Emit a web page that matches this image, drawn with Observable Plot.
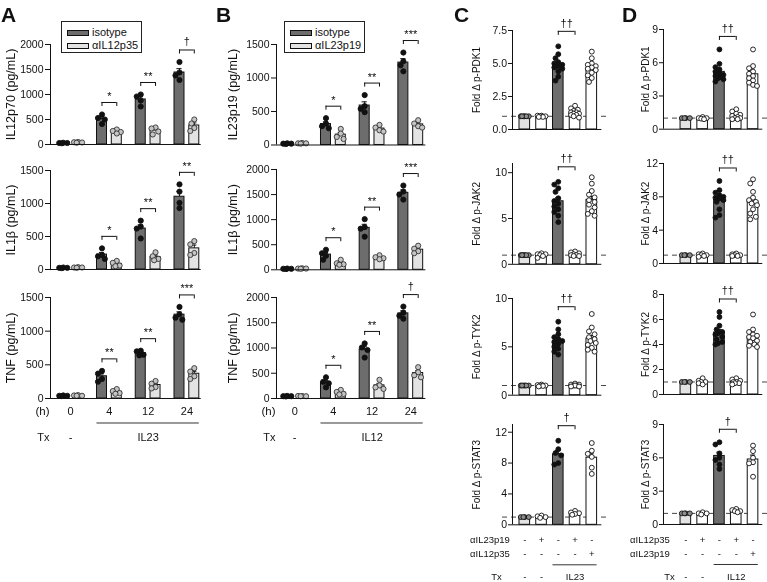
<!DOCTYPE html>
<html>
<head>
<meta charset="utf-8">
<script src="https://cdn.jsdelivr.net/npm/d3@7"></script>
<script src="https://cdn.jsdelivr.net/npm/@observablehq/plot@0.6"></script>
<style>
  body { margin: 0; background: #fff; }
  #fig { position: relative; width: 767px; height: 582px; overflow: hidden;
         font-family: "Liberation Sans", Arial, Helvetica, sans-serif; color: #111; background: #fff; }
  #fig svg { will-change: transform; }
  .letter { position: absolute; font-weight: bold; font-size: 21px; line-height: 21px; }
  .legend { position: absolute; border: 1px solid #222; box-sizing: border-box; background: #fff; }
  .sw { position: absolute; border: 1px solid #111; box-sizing: border-box; }
  .lt { position: absolute; font-size: 11px; line-height: 13px; white-space: nowrap; }
</style>
</head>
<body>
<div id="fig"></div>
<script>
// ================= DATA =================
const hours = ["0", "4", "12", "24"];
const seriesA = ["isotype", "αIL12p35"];
const seriesB = ["isotype", "αIL23p19"];
const txA = ["-", "IL23", "IL23", "IL23"];
const txB = ["-", "IL12", "IL12", "IL12"];

// Panel A (pg/mL), one inner array of replicate values per time point
const A_IL12p70_iso  = [[25,30,35,30],[600,530,500,410],[1000,960,880,760],[1650,1440,1380,1290]];
const A_IL12p70_anti = [[35,45,50,40],[300,270,250,220],[340,320,260,200],[500,420,330,270]];
const A_IL12p70_sig  = ["", "*", "**", "†"];
const A_IL1b_iso  = [[20,25,30,25],[320,220,200,160],[740,650,620,470],[1290,1180,1010,930]];
const A_IL1b_anti = [[25,30,35,30],[130,100,60,50],[260,200,160,140],[430,380,250,220]];
const A_IL1b_sig  = ["", "*", "**", "**"];
const A_TNF_iso  = [[35,40,45,40],[410,370,290,250],[710,700,650,640],[1360,1250,1200,1170]];
const A_TNF_anti = [[40,50,45,40],[140,110,80,70],[260,220,170,150],[450,400,330,290]];
const A_TNF_sig  = ["", "**", "**", "***"];

// Panel B (pg/mL)
const B_IL23p19_iso  = [[15,20,25,20],[400,320,280,250],[745,580,540,490],[1380,1250,1190,1100]];
const B_IL23p19_anti = [[20,30,25,25],[240,170,120,90],[300,260,220,200],[370,320,280,260]];
const B_IL23p19_sig  = ["", "*", "**", "***"];
const B_IL1b_iso  = [[15,20,25,20],[400,330,280,200],[1010,850,820,660],[1680,1560,1500,1400]];
const B_IL1b_anti = [[20,25,30,25],[200,130,110,100],[290,250,230,210],[480,420,370,330]];
const B_IL1b_sig  = ["", "*", "**", "***"];
const B_TNF_iso  = [[40,45,50,45],[420,330,300,220],[1090,1010,960,810],[1820,1700,1640,1580]];
const B_TNF_anti = [[45,50,45,50],[170,130,90,80],[370,260,220,190],[620,520,460,420]];
const B_TNF_sig  = ["", "*", "**", "†"];

// Panel C (fold change), five conditions
const C_rows = [
  {name: "αIL23p19", signs: ["-", "+", "-", "+", "-"]},
  {name: "αIL12p35", signs: ["-", "-", "-", "-", "+"]}
];
const C_tx = ["-", "-", "IL23", "IL23", "IL23"];
const C_PDK1 = [[1,1,1,1,1,1],[1.05,0.95,1,1,0.95,1.05],
  [6.3,5.7,5.4,5.1,5.0,4.9,4.8,4.7,4.6,4.4,4.0,3.7],
  [1.8,1.6,1.5,1.4,1.3,1.3,1.2,1.2,1.1,1.1,1.0,0.9],
  [5.9,5.4,5.0,4.9,4.8,4.7,4.6,4.5,4.3,4.1,3.9,3.6]];
const C_JAK2 = [[1,1,1,1,1,1],[0.7,1.2,1.0,0.9,1.1,1.1],
  [9.0,8.7,8.3,7.9,7.2,6.9,6.6,6.3,6.0,5.7,5.3,4.6],
  [1.4,1.3,1.2,1.1,1.0,1.0,0.9,0.9],
  [9.5,8.8,8.0,7.6,7.3,7.0,6.8,6.5,6.2,5.8,5.5,5.3]];
const C_TYK2 = [[1,1,1,1,1,1],[1.1,0.9,1.0,1.05,0.95,1.0],
  [7.6,6.8,6.3,6.0,5.8,5.6,5.5,5.3,5.0,4.8,4.5,4.2],
  [1.2,1.1,1.1,1.0,1.0,0.9,0.9,1.0],
  [8.4,7.0,6.6,6.3,6.0,5.8,5.6,5.4,5.2,4.9,4.7,4.5]];
const C_STAT3 = [[1,1,1,1],[1.2,1.1,0.9,1.0],
  [10.9,9.8,9.3,9.0,8.0,7.8],
  [1.8,1.6,1.5,1.4,1.3],
  [10.6,9.6,9.2,8.8,7.4,6.6]];
const C_sig = ["††", "††", "††", "†"];

// Panel D (fold change)
const D_rows = [
  {name: "αIL12p35", signs: ["-", "+", "-", "+", "-"]},
  {name: "αIL23p19", signs: ["-", "-", "-", "-", "+"]}
];
const D_tx = ["-", "-", "IL12", "IL12", "IL12"];
const D_PDK1 = [[1,1,1,1],[1.1,0.9,1.0,1.0,0.95],
  [7.2,5.9,5.6,5.4,5.2,5.0,4.9,4.8,4.7,4.6,4.5,4.3],
  [1.8,1.6,1.4,1.3,1.2,1.1,1.0,1.0,0.9,0.9],
  [7.2,5.7,5.5,5.2,5.0,4.8,4.6,4.4,4.2,4.0,3.9]];
const D_JAK2 = [[1,1,1,1],[1.2,1.0,0.8,0.9,1.1,1.0],
  [9.9,8.8,8.5,8.2,8.0,7.9,7.8,7.6,7.4,6.5,5.8,5.5],
  [1.2,1.1,1.0,1.0,0.9,0.9],
  [10.1,9.6,8.6,7.9,7.6,7.4,7.2,7.0,6.5,6.0,5.6,5.3]];
const D_TYK2 = [[1,1,1,1],[1.3,1.1,0.9,0.8,1.0,1.0],
  [6.6,6.2,5.5,5.2,5.0,4.9,4.8,4.6,4.4,4.2,4.1,4.0],
  [1.3,1.2,1.1,1.0,1.0,0.9,0.9,0.8],
  [6.4,5.2,5.0,4.8,4.7,4.6,4.5,4.3,4.2,4.0,3.9,3.8]];
const D_STAT3 = [[1,1,1,1],[1.1,1.0,0.9,1.0],
  [7.4,7.2,6.4,6.0,5.8,5.4,5.0],
  [1.4,1.3,1.2,1.1,1.2],
  [7.1,6.6,6.0,5.6,5.5,4.3]];
const D_sig = ["††", "††", "††", "†"];

// ================= STYLE =================
const FONT = '"Liberation Sans", Arial, Helvetica, sans-serif';
const INK = "#111";
const DARK = "#6d6d6d", LIGHT = "#e3e3e3", WHITE = "#ffffff";
const CD_FILLS = [LIGHT, WHITE, DARK, WHITE, WHITE];
const CD_DOTFILL = ["#8c8c8c", WHITE, INK, WHITE, WHITE];

const fig = document.getElementById("fig");
function el(tag, cls, css, text) {
  const e = document.createElement(tag);
  if (cls) e.className = cls;
  Object.assign(e.style, css || {});
  if (text != null) e.textContent = text;
  return e;
}

function runs(arr) {
  const out = [];
  let s = 0;
  for (let i = 1; i <= arr.length; i++) {
    if (i === arr.length || arr[i] !== arr[s] || arr[s] === "-") {
      out.push({label: arr[s], a: s, b: i - 1, x: (s + i - 1) / 2});
      s = i;
    }
  }
  return out;
}

// Generic sub-chart
function subplot(o) {
  const plotW = (o.xmax - o.xmin) * o.s;
  const plotH = o.y0 - o.yTop;
  const pxY = plotH / o.ymax;
  const width = o.ml + plotW + o.mr;
  const height = o.mt + plotH + o.mb;
  const R = o.r;
  const dots = [];
  for (const b of o.bars) {
    const placed = [];
    const sorted = [...b.vals].sort((a, c) => c - a);
    for (const v of sorted) {
      const py = v * pxY;
      let best = 0, bestD = -1;
      for (const c of [0, -2.8, 2.8, -1.4, 1.4, -4, 4]) {
        const dm = placed.length ? d3.min(placed, p => Math.hypot(p[0] - c, p[1] - py)) : Infinity;
        if (dm >= 2 * R * 0.9) { best = c; break; }
        if (dm > bestD) { bestD = dm; best = c; }
      }
      placed.push([best, py]);
      dots.push({x: b.cx + best / o.s, y: v, fill: b.dotFill, stroke: b.dotStroke});
    }
  }
  const errs = o.bars.filter(b => b.sem > 1e-9).map(b => ({cx: b.cx, y1: b.mean, y2: b.mean + b.sem, cap: 2.6 / o.s}));
  const brk = o.brackets.map(k => ({...k, yb: k.maxv + o.brOff / pxY, leg: 4 / pxY}));
  const legs = brk.flatMap(b => [{x: b.x1, y1: b.yb - b.leg, y2: b.yb}, {x: b.x2, y1: b.yb - b.leg, y2: b.yb}]);
  const marks = [];
  if (o.dash != null) {
    marks.push(Plot.ruleY([o.dash], {x1: o.dashX1, x2: o.dashX2, stroke: "#444", strokeWidth: 1, strokeDasharray: "5,4"}));
  }
  marks.push(
    Plot.rect(o.bars, {x1: b => b.cx - b.hw, x2: b => b.cx + b.hw, y1: 0, y2: "mean", fill: "fill", stroke: INK, strokeWidth: 1}),
    Plot.ruleX(errs, {x: "cx", y1: "y1", y2: "y2", stroke: INK, strokeWidth: 1}),
    Plot.ruleY(errs, {y: "y2", x1: d => d.cx - d.cap, x2: d => d.cx + d.cap, stroke: INK, strokeWidth: 1}),
    Plot.dot(dots, {x: "x", y: "y", r: R, fill: "fill", stroke: "stroke", strokeWidth: 0.9}),
    Plot.ruleY([0], {stroke: INK, strokeWidth: 1}),
    Plot.ruleX([o.xmin], {y1: 0, y2: o.ymax, stroke: INK, strokeWidth: 1}),
    Plot.ruleY(brk, {y: "yb", x1: "x1", x2: "x2", stroke: INK, strokeWidth: 1}),
    Plot.ruleX(legs, {x: "x", y1: "y1", y2: "y2", stroke: INK, strokeWidth: 1}),
    Plot.text(brk.filter(d => !d.text.includes("†")), {x: d => (d.x1 + d.x2) / 2, y: "yb", text: "text", lineAnchor: "bottom", dy: -2.5, fontSize: 11, fill: INK}),
    Plot.text(brk.filter(d => d.text.includes("†")), {x: d => (d.x1 + d.x2) / 2, y: "yb", text: "text", lineAnchor: "bottom", dy: -4.5, fontSize: 11, fill: INK}),
    Plot.text([o.label], {text: d => d, frameAnchor: "left", rotate: -90, dx: -o.labelOffset, fontSize: o.labelSize, textAnchor: "middle", lineAnchor: "middle", fill: INK}),
    ...(o.extra || [])
  );
  const svg = Plot.plot({
    width, height,
    marginLeft: o.ml, marginRight: o.mr, marginTop: o.mt, marginBottom: o.mb,
    x: {domain: [o.xmin, o.xmax], axis: null},
    y: {domain: [0, o.ymax], ticks: o.ticks, tickSize: o.tickSize, tickPadding: o.tickPadding,
        tickFormat: o.fmt || (d => String(d)), label: null},
    color: {type: "identity"},
    style: {background: "transparent", overflow: "visible", fontFamily: FONT, fontSize: o.tickFont + "px",
            color: INK, maxWidth: "none", position: "absolute",
            left: (o.axisX - o.ml) + "px", top: (o.yTop - o.mt) + "px"},
    marks
  });
  fig.appendChild(svg);
}

// ---------- Panels A & B ----------
function abPanel(g, subs, series, tx) {
  const off = 7.4 / g.s, hw = 5 / g.s;
  subs.forEach((sp, idx) => {
    const bars = [];
    [sp.iso, sp.anti].forEach((arr, k) => arr.forEach((vals, gi) => bars.push({
      g: gi, k, vals, cx: gi + (k ? off : -off), hw,
      mean: d3.mean(vals), sem: d3.deviation(vals) / Math.sqrt(vals.length),
      fill: k ? LIGHT : DARK, dotFill: k ? "#c4c4c4" : INK, dotStroke: k ? "#333" : INK
    })));
    const brackets = sp.sig.map((t, gi) => {
      if (!t) return null;
      const bi = bars.find(b => b.g === gi && b.k === 0), ba = bars.find(b => b.g === gi && b.k === 1);
      return {x1: bi.cx, x2: ba.cx, maxv: d3.max([...bi.vals, ...ba.vals]), text: t};
    }).filter(Boolean);
    const last = idx === subs.length - 1;
    let extra = [];
    if (last) {
      const r = runs(tx);
      const treated = r.filter(d => d.label !== "-");
      extra = [
        Plot.text(hours, {x: (d, i) => i, text: d => d, frameAnchor: "bottom", dy: 13, lineAnchor: "middle", fontSize: 11, fill: INK}),
        Plot.text(["(h)"], {text: d => d, frameAnchor: "bottom-left", dx: -1, dy: 13, textAnchor: "end", lineAnchor: "middle", fontSize: 11.5, fill: INK}),
        Plot.ruleY(treated, {y: 0, x1: d => d.a - off - hw, x2: d => d.b + off + hw, dy: 24.5, stroke: "#333", strokeWidth: 1}),
        Plot.text(["Tx"], {text: d => d, frameAnchor: "bottom-left", dx: -1, dy: 38.5, textAnchor: "end", lineAnchor: "middle", fontSize: 11, fill: INK}),
        Plot.text(r, {x: "x", text: "label", frameAnchor: "bottom", dy: 38.5, lineAnchor: "middle", fontSize: 11, fill: INK})
      ];
    }
    subplot({
      ...g, ...sp, bars, brackets, extra, r: 2.6,
      ml: 58, mr: 8, mt: 30, mb: last ? 50 : 8,
      tickSize: 5, tickPadding: 2, tickFont: 10.5, labelSize: 12.5
    });
  });
  // legend
  const lg = el("div", "legend", {left: g.legLeft + "px", top: "21px", width: "81px", height: "32px"});
  series.forEach((s, i) => {
    lg.appendChild(el("div", "sw", {left: "5px", top: (7.5 + 13 * i) + "px", width: "22px", height: "6px", background: i ? LIGHT : DARK}));
    lg.appendChild(el("div", "lt", {left: "30px", top: (4 + 13 * i) + "px"}, s));
  });
  fig.appendChild(lg);
}

abPanel({axisX: 50, s: 38.75, xmin: -0.52, xmax: 3.37, labelOffset: 40, brOff: 12, legLeft: 61}, [
  {yTop: 44, y0: 144, ymax: 2000, ticks: [0, 500, 1000, 1500, 2000], label: "IL12p70 (pg/mL)", iso: A_IL12p70_iso, anti: A_IL12p70_anti, sig: A_IL12p70_sig},
  {yTop: 170, y0: 269, ymax: 1500, ticks: [0, 500, 1000, 1500], label: "IL1β (pg/mL)", iso: A_IL1b_iso, anti: A_IL1b_anti, sig: A_IL1b_sig},
  {yTop: 297, y0: 398, ymax: 1500, ticks: [0, 500, 1000, 1500], label: "TNF (pg/mL)", iso: A_TNF_iso, anti: A_TNF_anti, sig: A_TNF_sig}
], seriesA, txA);

abPanel({axisX: 276, s: 38.7, xmin: -0.47, xmax: 3.39, labelOffset: 44, brOff: 12, legLeft: 284}, [
  {yTop: 43.5, y0: 144, ymax: 1500, ticks: [0, 500, 1000, 1500], label: "IL23p19 (pg/mL)", iso: B_IL23p19_iso, anti: B_IL23p19_anti, sig: B_IL23p19_sig},
  {yTop: 169, y0: 269.3, ymax: 2000, ticks: [0, 500, 1000, 1500, 2000], label: "IL1β (pg/mL)", iso: B_IL1b_iso, anti: B_IL1b_anti, sig: B_IL1b_sig},
  {yTop: 296.7, y0: 397.7, ymax: 2000, ticks: [0, 500, 1000, 1500, 2000], label: "TNF (pg/mL)", iso: B_TNF_iso, anti: B_TNF_anti, sig: B_TNF_sig}
], seriesB, txB);

// ---------- Panels C & D ----------
function cdPanel(g, subs, rows, tx) {
  const hw = 5.3 / g.s;
  subs.forEach((sp, idx) => {
    const bars = sp.vals.map((vals, k) => ({
      k, vals, cx: k, hw, mean: d3.mean(vals), sem: d3.deviation(vals) / Math.sqrt(vals.length),
      fill: CD_FILLS[k], dotFill: CD_DOTFILL[k], dotStroke: INK
    }));
    const brackets = [{x1: 2, x2: 3, maxv: d3.max([...sp.vals[2], ...sp.vals[3]]), text: sp.sig}];
    const last = idx === subs.length - 1;
    let extra = [];
    if (last) {
      const r = runs(tx);
      const treated = r.filter(d => d.label !== "-");
      const rowDy = [15, 29];
      extra = rows.flatMap((row, j) => [
        Plot.text([row.name], {text: d => d, x: 0, frameAnchor: "bottom", dx: g.rowDx, dy: rowDy[j], textAnchor: "end", lineAnchor: "middle", fontSize: 9.5, fill: INK}),
        Plot.text(row.signs, {text: d => d, x: (d, i) => i, frameAnchor: "bottom", dy: rowDy[j], lineAnchor: "middle", fontSize: 9.5, fill: INK})
      ]).concat([
        Plot.ruleY(treated, {y: 0, x1: d => d.a - hw, x2: d => d.b + hw, dy: 40, stroke: "#333", strokeWidth: 1}),
        Plot.text(["Tx"], {text: d => d, x: 0, frameAnchor: "bottom", dx: g.txDx, dy: 52.5, textAnchor: "end", lineAnchor: "middle", fontSize: 9.5, fill: INK}),
        Plot.text(r, {x: "x", text: "label", frameAnchor: "bottom", dy: 52.5, lineAnchor: "middle", fontSize: 9.5, fill: INK})
      ]);
    }
    subplot({
      ...g, ...sp, bars, brackets, extra, r: 2.45,
      dash: 1,
      ml: 52, mr: 14, mt: 26, mb: last ? 62 : 8,
      tickSize: 4, tickPadding: 1.5, tickFont: 10.5, labelSize: 10
    });
  });
}

cdPanel({axisX: 511.7, s: 16.75, xmin: -0.734, xmax: 4.6, dashX1: -1.33, dashX2: 4.95, labelOffset: 36, brOff: 15, rowDx: -15, txDx: -23}, [
  {yTop: 30, y0: 129, ymax: 7.5, ticks: [0, 2.5, 5, 7.5], fmt: d3.format(".1f"), label: "Fold Δ p-PDK1", vals: C_PDK1, sig: C_sig[0]},
  {yTop: 162.5, y0: 263.3, ymax: 11, ticks: [0, 5, 10], label: "Fold Δ p-JAK2", vals: C_JAK2, sig: C_sig[1]},
  {yTop: 298.3, y0: 395, ymax: 10, ticks: [0, 5, 10], label: "Fold Δ p-TYK2", vals: C_TYK2, sig: C_sig[2]},
  {yTop: 424, y0: 524.3, ymax: 13, ticks: [0, 4, 8, 12], label: "Fold Δ p-STAT3", vals: C_STAT3, sig: C_sig[3]}
], C_rows, C_tx);

cdPanel({axisX: 662.7, s: 16.8, xmin: -1.33, xmax: 4.58, dashX1: -1.33, dashX2: 4.88, labelOffset: 18, brOff: 13, rowDx: -16, txDx: -11}, [
  {yTop: 29.3, y0: 129, ymax: 9, ticks: [0, 3, 6, 9], label: "Fold Δ p-PDK1", vals: D_PDK1, sig: D_sig[0]},
  {yTop: 163.3, y0: 263.3, ymax: 12, ticks: [0, 4, 8, 12], label: "Fold Δ p-JAK2", vals: D_JAK2, sig: D_sig[1]},
  {yTop: 294.3, y0: 394.3, ymax: 8, ticks: [0, 2, 4, 6, 8], label: "Fold Δ p-TYK2", vals: D_TYK2, sig: D_sig[2]},
  {yTop: 424, y0: 524, ymax: 9, ticks: [0, 3, 6, 9], label: "Fold Δ p-STAT3", vals: D_STAT3, sig: D_sig[3]}
], D_rows, D_tx);

// ---------- Panel letters ----------
[["A", 1], ["B", 216], ["C", 454], ["D", 622]].forEach(([t, x]) => {
  fig.appendChild(el("div", "letter", {left: x + "px", top: "4px"}, t));
});
</script>
</body>
</html>
